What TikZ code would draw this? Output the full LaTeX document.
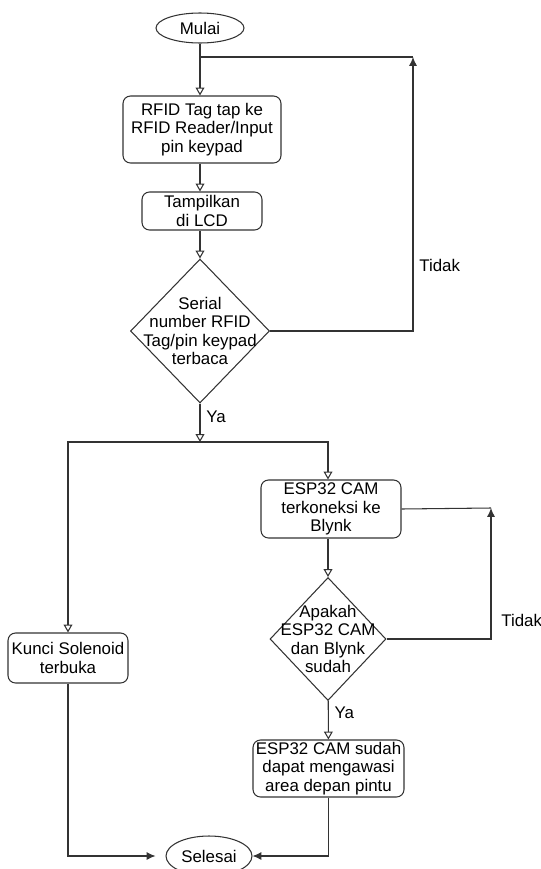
\documentclass[tikz,border=0pt]{standalone}
\usepackage{fontspec}
\setmainfont{Liberation Sans}
\usetikzlibrary{shapes.geometric, arrows.meta}

\begin{document}
\begin{tikzpicture}[
        x=0.02cm, y=-0.02cm,
        font=\fontsize{9.6pt}{10.5pt}\selectfont,
        line width=0.6pt, draw=black!80,
        terminal/.style={ellipse, draw, inner sep=0pt},
        process/.style={rectangle, rounded corners=0.15cm, draw, align=center, inner sep=0pt},
        decision/.style={diamond, draw, inner sep=0pt},
        flow/.style={draw, -{Triangle[open, length=4.5pt, width=5pt]}},
        back/.style={draw, -{Latex[length=5pt, width=4.5pt]}},
    ]
        \useasboundingbox (0, 0) rectangle (541, 869);

        \node[terminal, minimum width=1.76cm, minimum height=0.6cm] (mulai) at (200, 28) {Mulai};
        \node[process, minimum width=3.16cm, minimum height=1.34cm] (rfid) at (202, 129.5) {RFID Tag tap ke\\RFID Reader/Input\\pin keypad};
        \node[process, minimum width=2.4cm, minimum height=0.76cm] (lcd) at (202, 211) {Tampilkan\\di LCD};
        \node[decision, minimum width=2.78cm, minimum height=2.88cm,
            label={[name=dec1txt, align=center]center:Serial\\number RFID\\Tag/pin keypad\\terbaca}] (dec1) at (200, 331) {};
        \node[process, minimum width=2.8cm, minimum height=1.16cm] (esp) at (331, 509) {ESP32 CAM\\terkoneksi ke\\Blynk};
        \node[decision, minimum width=2.32cm, minimum height=2.46cm,
            label={[name=dec2txt, align=center]center:Apakah\\ESP32 CAM\\dan Blynk\\sudah}] (dec2) at (328, 639) {};
        \node[process, minimum width=3.02cm, minimum height=1.14cm] (done) at (328.5, 768.5) {ESP32 CAM sudah\\dapat mengawasi\\area depan pintu};
        \node[process, minimum width=2.4cm, minimum height=1cm] (kunci) at (68, 658) {Kunci Solenoid\\terbuka};
        \node[terminal, minimum width=1.72cm, minimum height=0.8cm] (selesai) at (209, 856) {Selesai};

        \coordinate (j1) at (200, 57);
        \coordinate (loop1) at (413, 57);
        \coordinate (j2) at (200, 442);
        \coordinate (loop2) at (491, 508);

        \draw[flow] (mulai) -- (mulai |- rfid.north);
        \draw[flow] (rfid.south -| dec1) -- (lcd.north -| dec1);
        \draw[flow] (lcd.south -| dec1) -- (dec1);
        \draw[back] (dec1) -| node[right, pos=0.62] (tidak1) {Tidak} (loop1);
        \draw (loop1) -- (j1);

        \draw[flow] (dec1) -- node[right, pos=0.35] (ya1) {Ya} (j2);
        \draw[flow] (j2) -| (kunci);
        \draw[flow] (j2) -| (esp.north -| dec2);

        \draw[flow] (esp.south -| dec2) -- (dec2);
        \draw (esp.east) -- (loop2);
        \draw[back] (dec2) -| node[right, pos=0.57, xshift=0.08cm] (tidak2) {Tidak} (loop2);
        \draw[flow] (dec2) -- node[right, pos=0.3] (ya2) {Ya} (done);

        \draw[back, shorten >=0.2cm] (kunci) |- (selesai);
        \draw[back] (done) |- (selesai);
    \end{tikzpicture}
\end{document}
